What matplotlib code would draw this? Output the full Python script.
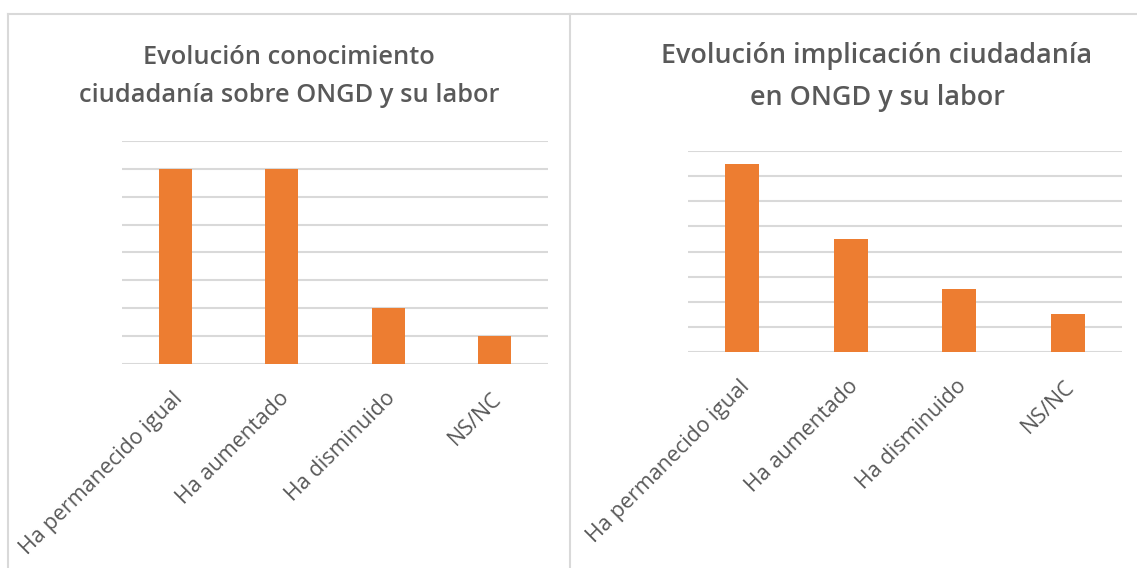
import matplotlib
matplotlib.use("Agg")
import matplotlib.pyplot as plt
import matplotlib.transforms as mtransforms
from matplotlib.lines import Line2D
import numpy as np

# data
categories = ["Ha permanecido igual", "Ha aumentado", "Ha disminuido", "NS/NC"]
conocimiento = [7, 7, 2, 1]
implicacion = [7.5, 4.5, 2.5, 1.5]
title_left = ["Evolución conocimiento", "ciudadanía sobre ONGD y su labor"]
title_right = ["Evolución implicación ciudadanía", "en ONGD y su labor"]

W, H = 1137, 568
BAR = "#ED7D31"
GRID = "#D9D9D9"
TXT = "#595959"
FONT = "Open Sans"

fig = plt.figure(figsize=(W / 100, H / 100), dpi=100)
fig.patch.set_facecolor("white")


def px_axes(x0, x1, ytop, ybot):
    return fig.add_axes([x0 / W, (H - ybot) / H, (x1 - x0) / W, (ybot - ytop) / H])


def draw_panel(ax, values):
    x = np.arange(len(categories))
    ax.bar(x, values, width=0.31, color=BAR, zorder=3)
    ax.set_xlim(-0.5, len(categories) - 0.5)
    ax.set_ylim(0, 8)
    ax.set_yticks(np.arange(0, 9, 1))
    ax.yaxis.grid(True, color=GRID, linewidth=1.5, zorder=0)
    ax.tick_params(left=False, labelleft=False, bottom=False)
    for s in ax.spines.values():
        s.set_visible(False)
    ax.set_xticks(x)
    ax.set_xticklabels(categories, rotation=45, ha="right", va="center",
                       rotation_mode="anchor", fontsize=15.5, color=TXT,
                       family=FONT)
    ax.tick_params(axis="x", pad=19)
    shift = mtransforms.ScaledTranslation(4 / 100, 0, fig.dpi_scale_trans)
    for lab in ax.get_xticklabels():
        lab.set_transform(lab.get_transform() + shift)


ax1 = px_axes(122, 548, 141, 364)
draw_panel(ax1, conocimiento)
ax2 = px_axes(688, 1122, 151, 352)
draw_panel(ax2, implicacion)


def title(lines, xc, baselines, size):
    for line, yb in zip(lines, baselines):
        fig.text(xc / W, 1 - yb / H, line, ha="center", va="baseline",
                 fontsize=size, color=TXT, family=FONT, fontweight="semibold")


title(title_left, 289, [64, 102], 18.3)
title(title_right, 877, [63, 105], 19.4)

# panel borders
for xs, ys in [([8, W], [14, 14]), ([8, 8], [14, H]), ([570, 570], [14, H])]:
    fig.add_artist(Line2D([v / W for v in xs], [1 - v / H for v in ys],
                          color=GRID, linewidth=1.5))

fig.savefig("out.png", dpi=100)
